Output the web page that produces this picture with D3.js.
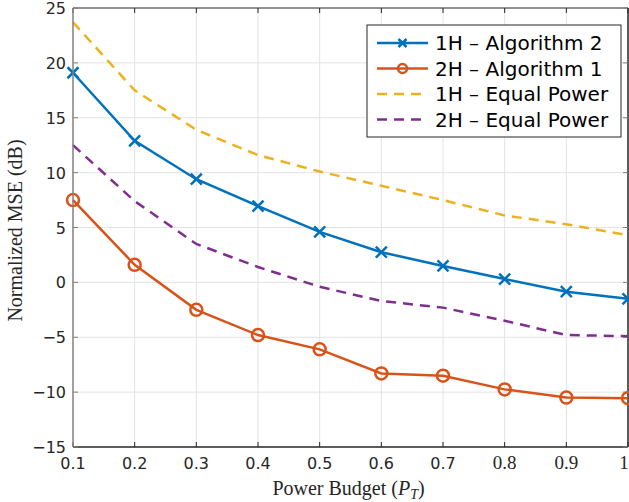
<!DOCTYPE html>
<html>
<head>
<meta charset="utf-8">
<script src="https://cdn.jsdelivr.net/npm/d3@7"></script>
<style>
  body { margin: 0; background: #fff; }
  svg { display: block; }
</style>
</head>
<body>
<div id="chart"></div>
<script>
// Power budget values on the x axis
const power = [0.1, 0.2, 0.3, 0.4, 0.5, 0.6, 0.7, 0.8, 0.9, 1.0];
const alg2_1H = [19.1, 12.9, 9.4, 6.95, 4.6, 2.75, 1.5, 0.3, -0.85, -1.5];
const alg1_2H = [7.5, 1.6, -2.5, -4.8, -6.1, -8.3, -8.5, -9.75, -10.5, -10.55];
const eq_1H = [23.7, 17.5, 13.9, 11.6, 10.1, 8.8, 7.5, 6.1, 5.3, 4.3];
const eq_2H = [12.5, 7.4, 3.5, 1.4, -0.4, -1.7, -2.3, -3.5, -4.8, -4.9];
const xTicks = [0.1, 0.2, 0.3, 0.4, 0.5, 0.6, 0.7, 0.8, 0.9, 1];
const yTicks = [-15, -10, -5, 0, 5, 10, 15, 20, 25];
const seriesNames = ["1H \u2013 Algorithm 2", "2H \u2013 Algorithm 1", "1H \u2013 Equal Power", "2H \u2013 Equal Power"];

const W = 629, H = 502;
const margin = { top: 8, right: 1, bottom: 55, left: 73 };
const innerW = W - margin.left - margin.right;
const innerH = H - margin.top - margin.bottom;

const svg = d3.select("#chart").append("svg")
  .attr("width", W).attr("height", H);
const g = svg.append("g").attr("transform", `translate(${margin.left},${margin.top})`);

const x = d3.scaleLinear().domain([0.1, 1]).range([0, innerW]);
const y = d3.scaleLinear().domain([-15, 25]).range([innerH, 0]);

// grid
g.append("g").selectAll("line").data(xTicks.slice(1, -1)).enter().append("line")
  .attr("x1", d => x(d)).attr("x2", d => x(d)).attr("y1", 0).attr("y2", innerH)
  .attr("stroke", "#e3e3e3").attr("stroke-width", 1);
g.append("g").selectAll("line").data(yTicks.slice(1, -1)).enter().append("line")
  .attr("x1", 0).attr("x2", innerW).attr("y1", d => y(d)).attr("y2", d => y(d))
  .attr("stroke", "#e3e3e3").attr("stroke-width", 1);

const series = [
  { name: seriesNames[0], values: alg2_1H, color: "#0072BD", dash: null, marker: "x" },
  { name: seriesNames[1], values: alg1_2H, color: "#D95319", dash: null, marker: "o" },
  { name: seriesNames[2], values: eq_1H, color: "#EDB120", dash: "10,7", marker: null },
  { name: seriesNames[3], values: eq_2H, color: "#7E2F8E", dash: "10,7", marker: null }
];

const line = d3.line().x((d, i) => x(power[i])).y(d => y(d));

function drawMarker(sel, type, color) {
  if (type === "x") {
    const s = 5.5;
    sel.append("path")
      .attr("d", `M${-s},${-s}L${s},${s}M${-s},${s}L${s},${-s}`)
      .attr("stroke", color).attr("stroke-width", 2.5).attr("fill", "none");
  } else if (type === "o") {
    sel.append("circle").attr("r", 6)
      .attr("stroke", color).attr("stroke-width", 2.5).attr("fill", "none");
  }
}

// axes lines with inward ticks (MATLAB style box)
const axisColor = "#262626";
g.append("line").attr("x1", 0).attr("x2", innerW).attr("y1", innerH).attr("y2", innerH)
  .attr("stroke", axisColor).attr("stroke-width", 1.5);
g.append("line").attr("x1", 0).attr("x2", innerW).attr("y1", 0).attr("y2", 0)
  .attr("stroke", axisColor).attr("stroke-width", 1);
g.append("line").attr("x1", innerW).attr("x2", innerW).attr("y1", 0).attr("y2", innerH)
  .attr("stroke", axisColor).attr("stroke-width", 1.5);

xTicks.forEach(t => {
  g.append("line").attr("x1", x(t)).attr("x2", x(t)).attr("y1", innerH).attr("y2", innerH - 5)
    .attr("stroke", axisColor);
  g.append("line").attr("x1", x(t)).attr("x2", x(t)).attr("y1", 0).attr("y2", 5)
    .attr("stroke", axisColor);
});
yTicks.forEach(t => {
  g.append("line").attr("x1", 0).attr("x2", 5).attr("y1", y(t)).attr("y2", y(t))
    .attr("stroke", "#808080");
  g.append("line").attr("x1", innerW).attr("x2", innerW - 5).attr("y1", y(t)).attr("y2", y(t))
    .attr("stroke", "#808080");
});

series.forEach(s => {
  g.append("path").datum(s.values)
    .attr("d", line)
    .attr("fill", "none")
    .attr("stroke", s.color)
    .attr("stroke-width", 2.5)
    .attr("stroke-dasharray", s.dash);
  if (s.marker) {
    s.values.forEach((v, i) => {
      const m = g.append("g").attr("transform", `translate(${x(power[i])},${y(v)})`);
      drawMarker(m, s.marker, s.color);
    });
  }
});

// left axis in grey
g.append("line").attr("x1", 0).attr("x2", 0).attr("y1", 0).attr("y2", innerH)
  .attr("stroke", "#808080").attr("stroke-width", 1.5);

// tick labels
g.append("g").selectAll("text").data(xTicks).enter().append("text")
  .attr("x", d => Math.min(x(d), innerW - 4)).attr("y", innerH + 22)
  .attr("text-anchor", "middle")
  .attr("font-family", d => d >= 0.8 ? "'Liberation Serif', serif" : "'DejaVu Sans', sans-serif")
  .attr("font-size", d => d >= 0.8 ? 19 : 16)
  .attr("fill", "#262626")
  .text(d => d3.format("~g")(d));
g.append("g").selectAll("text").data(yTicks).enter().append("text")
  .attr("x", -7).attr("y", d => y(d) + 6)
  .attr("text-anchor", "end")
  .attr("font-family", "'DejaVu Sans', sans-serif").attr("font-size", 16)
  .attr("fill", "#262626")
  .text(d => d < 0 ? "\u2212" + Math.abs(d) : d);

// axis titles
svg.append("text")
  .attr("x", margin.left + innerW / 2 - 2).attr("y", 495)
  .attr("text-anchor", "middle")
  .attr("font-family", "'Liberation Serif', 'DejaVu Serif', serif").attr("font-size", 20)
  .attr("fill", "#262626")
  .html("Power Budget (<tspan font-style='italic'>P</tspan><tspan font-style='italic' font-size='14' dy='4'>T</tspan><tspan dy='-4'>)</tspan>");
svg.append("text")
  .attr("transform", `translate(22,${margin.top + innerH / 2 + 3}) rotate(-90)`)
  .attr("text-anchor", "middle")
  .attr("font-family", "'Liberation Serif', 'DejaVu Serif', serif").attr("font-size", 20)
  .attr("fill", "#262626")
  .text("Normalized MSE (dB)");

// legend
const lg = svg.append("g").attr("transform", "translate(367,25)");
lg.append("rect").attr("width", 254).attr("height", 112)
  .attr("fill", "#fff").attr("stroke", "#262626").attr("stroke-width", 1);
series.forEach((s, i) => {
  const yy = 18 + i * 25.5;
  lg.append("line").attr("x1", 10).attr("x2", 61).attr("y1", yy).attr("y2", yy)
    .attr("stroke", s.color).attr("stroke-width", 2.5).attr("stroke-dasharray", s.dash);
  if (s.marker) {
    const m = lg.append("g").attr("transform", `translate(35.5,${yy})`);
    if (s.marker === "x") {
      m.append("path").attr("d", "M-4,-4L4,4M-4,4L4,-4")
        .attr("stroke", s.color).attr("stroke-width", 2.5).attr("fill", "none");
    } else {
      m.append("circle").attr("r", 4.5).attr("stroke", s.color).attr("stroke-width", 2.5).attr("fill", "none");
    }
  }
  lg.append("text").attr("x", 68).attr("y", yy + 7)
    .attr("font-family", "'DejaVu Sans', sans-serif").attr("font-size", 20)
    .attr("fill", "#000")
    .text(s.name);
});
</script>
</body>
</html>
